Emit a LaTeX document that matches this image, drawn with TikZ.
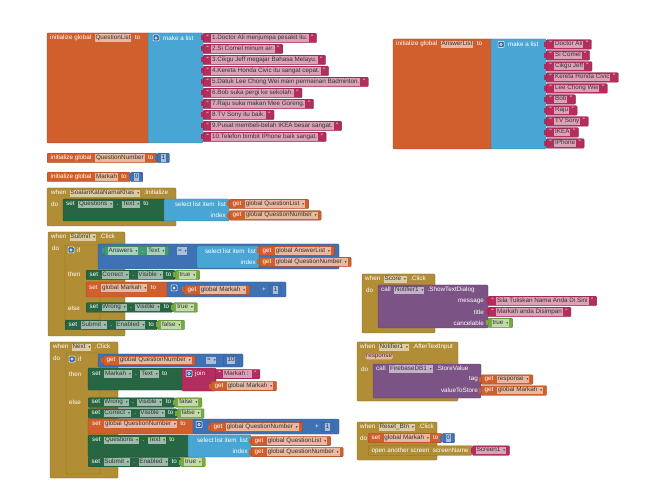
\documentclass[tikz,border=0pt]{standalone}
\usepackage{fontspec}
\setmainfont{Liberation Sans}
\newfontfamily\djv{DejaVu Sans}
\definecolor{cvar}{HTML}{D05F2D}
\definecolor{clist}{HTML}{49A6D4}
\definecolor{ctext}{HTML}{B32D5E}
\definecolor{cctrl}{HTML}{B18E35}
\definecolor{cmath}{HTML}{3F71B5}
\definecolor{cset}{HTML}{266643}
\definecolor{cget}{HTML}{439970}
\definecolor{clogic}{HTML}{77AB41}
\definecolor{cproc}{HTML}{7C5385}
\newcommand\ft{\fontsize{6.3}{7}\selectfont}
\newcommand\ddn{\hspace{3pt}{\djv\fontsize{3.6}{4}\selectfont ▾}}
\newcommand\gp{\hspace{3.5pt}}
\newcommand\fbx[2]{{\setlength\fboxsep{0.9pt}\colorbox{#1!45!white}{\rule[-1.6pt]{0pt}{6pt}\textcolor{black!80}{#2}}}}
\newcommand\fO[1]{\fbx{cvar}{#1}}
\newcommand\fG[1]{\fbx{cset}{#1}}
\newcommand\fN[1]{\fbx{cget}{#1}}
\newcommand\fL[1]{\fbx{clogic}{#1}}
\newcommand\fP[1]{\fbx{ctext}{#1}}
\newcommand\fM[1]{\fbx{cmath}{#1}}
\newcommand\fC[1]{\fbx{cctrl}{#1}}
\newcommand\fU[1]{\fbx{cproc}{#1}}
\newcommand\sqq[1]{\textquotedblleft\hspace{2.5pt}\fP{#1}\hspace{2.5pt}\textquotedblright}
\newcommand\leafb[4]{\node[leaf=#2] (#1) at (#3) {#4};\fill[#2] ([xshift=-1.8pt,yshift=2.5pt]#1.west) rectangle ++(2,5);}
\newcommand\stmb[4]{\node[leaf=#2] (#1) at (#3) {#4};}
\newcommand\gearb[3]{\node[gear] (#1) at (#2,#3) {};\draw[white,line width=0.6pt] (#1.center) circle (1.3pt);}
\begin{document}
\begin{tikzpicture}[x=1pt,y=-1pt,
  lbl/.style={text=white,inner sep=0pt,anchor=west,font=\ft},
  lblr/.style={text=white,inner sep=0pt,anchor=east,font=\ft},
  leaf/.style={fill=#1,draw=#1!75!black,line width=0.3pt,rounded corners=1pt,inner xsep=3.5pt,inner ysep=0pt,minimum height=9.5pt,anchor=west,font=\ft,text=white},
  box/.style={fill=#1,draw=#1!75!black,line width=0.3pt,rounded corners=1.2pt},
  gear/.style={fill=cmath!85!black,draw=white,line width=0.5pt,minimum size=6pt,inner sep=0pt,rounded corners=0.8pt},
  param/.style={inner sep=1pt,fill=cvar!45!white,draw=cvar!85!black,line width=0.3pt,rounded corners=2pt,anchor=west,font=\ft,text=black!80}
]
\useasboundingbox (0,0) rectangle (649,500);
\fill[white] (0,0) rectangle (649,500);

% ---------- QuestionList ----------
\path[box=cvar] (47,33) rectangle (150,143);
\path[box=clist] (148,33) rectangle (203,143);
\node[lbl] (qlh) at (50,38) {initialize global\gp\fO{QuestionList}\gp to};
\gearb{qlg}{156}{38}
\node[lbl] (qlm) at (163,38) {make a list};
\leafb{qs1}{ctext}{203,38}{\sqq{1.Doctor Ali menjumpa pesakit itu.}}
\leafb{qs2}{ctext}{203,49}{\sqq{2.Si Comel minum air.}}
\leafb{qs3}{ctext}{203,60}{\sqq{3.Cikgu Jeff megajar Bahasa Melayu.}}
\leafb{qs4}{ctext}{203,71}{\sqq{4.Kereta Honda Civic itu sangat cepat.}}
\leafb{qs5}{ctext}{203,82}{\sqq{5.Datuk Lee Chong Wei main permainan Badminton.}}
\leafb{qs6}{ctext}{203,93}{\sqq{6.Bob suka pergi ke sekolah.}}
\leafb{qs7}{ctext}{203,104}{\sqq{7.Raju suka makan Mee Goreng.}}
\leafb{qs8}{ctext}{203,115}{\sqq{8.TV Sony itu baik.}}
\leafb{qs9}{ctext}{203,126}{\sqq{9.Pusat membeli-belah IKEA besar sangat.}}
\leafb{qs10}{ctext}{203,137}{\sqq{10.Telefon bimbit IPhone baik sangat.}}

% ---------- AnswerList ----------
\path[box=cvar] (393,39) rectangle (493,149);
\path[box=clist] (491,39) rectangle (546,149);
\node[lbl] (alh) at (396,44.5) {initialize global\gp\fO{AnswerList}\gp to};
\gearb{alg}{501}{44.5}
\node[lbl] (alm) at (508,44.5) {make a list};
\leafb{as1}{ctext}{546,44.5}{\sqq{Doctor Ali}}
\leafb{as2}{ctext}{546,55.5}{\sqq{Si Comel}}
\leafb{as3}{ctext}{546,66.5}{\sqq{Cikgu Jeff}}
\leafb{as4}{ctext}{546,77.5}{\sqq{Kereta Honda Civic}}
\leafb{as5}{ctext}{546,88.5}{\sqq{Lee Chong Wei}}
\leafb{as6}{ctext}{546,99.5}{\sqq{Bob}}
\leafb{as7}{ctext}{546,110.5}{\sqq{Raju}}
\leafb{as8}{ctext}{546,121.5}{\sqq{TV Sony}}
\leafb{as9}{ctext}{546,132.5}{\sqq{IKEA}}
\leafb{as10}{ctext}{546,143.5}{\sqq{IPhone}}

% ---------- QuestionNumber / Markah ----------
\stmb{qni}{cvar}{47,158}{initialize global\gp\fO{QuestionNumber}\gp to}
\leafb{qnv}{cmath}{qni.east}{\fM{1}}
\stmb{mki}{cvar}{47,177}{initialize global\gp\fO{Markah}\gp to}
\leafb{mkv}{cmath}{mki.east}{\fM{0}}

% ---------- SoalanKataNamaKhas.Initialize ----------
\path[box=cctrl] (47,188) rectangle (176,226);
\node[lbl] (inh) at (51,193.5) {when\gp\fC{SoalanKataNamaKhas\ddn}\gp.Initialize};
\node[lbl] (indo) at (51,204.5) {do};
\path[box=cset] (63,199) rectangle (165,221);
\node[lbl] (ins) at (66,204.5) {set\gp\fG{Questions\ddn}\gp.\gp\fG{Text\ddn}\gp to};
\path[box=clist] (164,199) rectangle (229,221);
\node[lblr] (insl) at (226,204.5) {select list item\ \ list};
\node[lblr] (insi) at (226,215.5) {index};
\leafb{insg1}{cvar}{229,204}{get\gp\fO{global QuestionList\ddn}}
\leafb{insg2}{cvar}{229,215.5}{get\gp\fO{global QuestionNumber\ddn}}

% ---------- Submit.Click ----------
\path[box=cctrl] (48,232) rectangle (125,336);
\node[lbl] (suh) at (51,237.5) {when\gp\fC{Submit\ddn}\gp.Click};
\node[lbl] (sudo) at (52,248.5) {do};
\path[box=cctrl] (65,245) rectangle (100,320);
\gearb{sugr}{71}{250}
\node[lbl] (suif) at (77,250) {if};
\node[lbl] (suthen) at (68,274.5) {then};
\node[lbl] (suelse) at (68,308) {else};
\path[box=cmath] (98,244) rectangle (339,269);
\leafb{suans}{cget}{104,251}{\fN{Answers\ddn}\gp.\gp\fN{Text\ddn}}
\node[lbl] (sueq) at (177,251) {\fM{=\ddn}};
\path[box=clist] (197,246) rectangle (259,268);
\node[lblr] (susl) at (256,251) {select list item\ \ list};
\node[lblr] (susi) at (256,262) {index};
\leafb{sug1}{cvar}{259,251}{get\gp\fO{global AnswerList\ddn}}
\leafb{sug2}{cvar}{259,262}{get\gp\fO{global QuestionNumber\ddn}}
\stmb{suc}{cset}{86,275}{set\gp\fG{Correct\ddn}\gp.\gp\fG{Visible\ddn}\gp to}
\leafb{suct}{clogic}{suc.east}{\fL{true\ddn}}
\path[box=cvar] (86,282) rectangle (168,297);
\node[lbl] (sums) at (89,288) {set\gp\fO{global Markah\ddn}\gp to};
\path[box=cmath] (167,282) rectangle (286,297);
\gearb{sumg}{174}{288}
\leafb{sumget}{cvar}{184,290}{get\gp\fO{global Markah\ddn}}
\node[lbl] (sumplus) at (262,290) {+};
\leafb{sumone}{cmath}{269,290}{\fM{1}}
\stmb{suw}{cset}{86,307.5}{set\gp\fG{Wrong\ddn}\gp.\gp\fG{Visible\ddn}\gp to}
\leafb{suwt}{clogic}{suw.east}{\fL{true\ddn}}
\stmb{sus}{cset}{65,325}{set\gp\fG{Submit\ddn}\gp.\gp\fG{Enabled\ddn}\gp to}
\leafb{susf}{clogic}{sus.east}{\fL{false\ddn}}

% ---------- Score.Click ----------
\path[box=cctrl] (362,274) rectangle (435,333);
\node[lbl] (sch) at (365,279.5) {when\gp\fC{Score\ddn}\gp.Click};
\node[lbl] (scdo) at (366,290.5) {do};
\path[box=cproc] (378,285) rectangle (488,328);
\node[lbl] (scc) at (381,290.5) {call\gp\fU{Notifier1\ddn}\gp.ShowTextDialog};
\node[lblr] (scm) at (484,301) {message};
\node[lblr] (sct) at (484,312) {title};
\node[lblr] (sccn) at (484,323) {cancelable};
\leafb{scs1}{ctext}{488,301}{\sqq{Sila Tuliskan Nama Anda Di Sini}}
\leafb{scs2}{ctext}{488,312}{\sqq{Markah anda Disimpan}}
\leafb{scb}{clogic}{488,323}{\fL{true\ddn}}

% ---------- Next.Click ----------
\path[box=cctrl] (50,342) rectangle (118,478);
\node[lbl] (nxh) at (53,347.5) {when\gp\fC{Next\ddn}\gp.Click};
\node[lbl] (nxdo) at (53,358.5) {do};
\path[box=cctrl] (66,353) rectangle (100,474);
\gearb{nxgr}{72}{359}
\node[lbl] (nxif) at (78,359) {if};
\node[lbl] (nxthen) at (69,374.5) {then};
\node[lbl] (nxelse) at (69,402.5) {else};
\path[box=cmath] (98,354) rectangle (243,367);
\leafb{nxq}{cvar}{103,360.5}{get\gp\fO{global QuestionNumber\ddn}}
\node[lbl] (nxeq) at (206,360.5) {\fM{=\ddn}};
\leafb{nxten}{cmath}{223,360.5}{\fM{10}}
\path[box=cset] (88,368) rectangle (183,390);
\node[lbl] (nxms) at (92,374) {set\gp\fG{Markah\ddn}\gp.\gp\fG{Text\ddn}\gp to};
\path[box=ctext] (182,368) rectangle (216,391);
\gearb{nxjg}{189}{373.5}
\node[lbl] (nxjoin) at (195,373.5) {join};
\leafb{nxjs}{ctext}{215,374}{\sqq{Markah : }}
\leafb{nxjm}{cvar}{211,386}{get\gp\fO{global Markah\ddn}}
\stmb{nxw}{cset}{88,402.5}{set\gp\fG{Wrong\ddn}\gp.\gp\fG{Visible\ddn}\gp to}
\leafb{nxwf}{clogic}{nxw.east}{\fL{false\ddn}}
\stmb{nxc}{cset}{88,413.5}{set\gp\fG{Correct\ddn}\gp.\gp\fG{Visible\ddn}\gp to}
\leafb{nxcf}{clogic}{nxc.east}{\fL{false\ddn}}
\path[box=cvar] (88,419) rectangle (194,434);
\node[lbl] (nxqs) at (92,424.5) {set\gp\fO{global QuestionNumber\ddn}\gp to};
\path[box=cmath] (193,419) rectangle (339,434);
\gearb{nxpg}{199}{424.5}
\leafb{nxpq}{cvar}{210,427}{get\gp\fO{global QuestionNumber\ddn}}
\node[lbl] (nxplus) at (315,427) {+};
\leafb{nxpone}{cmath}{321,427}{\fM{1}}
\path[box=cset] (88,435) rectangle (189,457);
\node[lbl] (nxqt) at (92,440.5) {set\gp\fG{Questions\ddn}\gp.\gp\fG{Text\ddn}\gp to};
\path[box=clist] (188,435) rectangle (251,457);
\node[lblr] (nxsl) at (248,440.5) {select list item\ \ list};
\node[lblr] (nxsi) at (248,451.5) {index};
\leafb{nxg1}{cvar}{251,441}{get\gp\fO{global QuestionList\ddn}}
\leafb{nxg2}{cvar}{251,452}{get\gp\fO{global QuestionNumber\ddn}}
\stmb{nxs}{cset}{88,462}{set\gp\fG{Submit\ddn}\gp.\gp\fG{Enabled\ddn}\gp to}
\leafb{nxst}{clogic}{nxs.east}{\fL{true\ddn}}

% ---------- Notifier1.AfterTextInput ----------
\path[box=cctrl] (357,342) rectangle (458,401);
\node[lbl] (nth) at (360,347.5) {when\gp\fC{Notifier1\ddn}\gp.AfterTextInput};
\node[param] (ntr) at (365,356.5) {response};
\node[lbl] (ntdo) at (361,369) {do};
\path[box=cproc] (373,364) rectangle (481,398);
\node[lbl] (ntc) at (376,369) {call\gp\fU{FirebaseDB1\ddn}\gp.StoreValue};
\node[lblr] (ntt) at (478,379.5) {tag};
\node[lblr] (ntv) at (478,390.5) {valueToStore};
\leafb{ntg1}{cvar}{481,379.5}{get\gp\fO{response\ddn}}
\leafb{ntg2}{cvar}{481,390.5}{get\gp\fO{global Markah\ddn}}

% ---------- Reset_Btn.Click ----------
\path[box=cctrl] (357,422) rectangle (437,460);
\node[lbl] (rsh) at (360,427.5) {when\gp\fC{Reset\_Btn\ddn}\gp.Click};
\node[lbl] (rsdo) at (360,438.5) {do};
\stmb{rss}{cvar}{368,438}{set\gp\fO{global Markah\ddn}\gp to}
\leafb{rsz}{cmath}{rss.east}{\fM{0}}
\stmb{rso}{cctrl}{368,450.5}{open another screen\ \ screenName}
\leafb{rsn}{ctext}{rso.east}{\fP{Screen1\ddn}}
\end{tikzpicture}
\end{document}
